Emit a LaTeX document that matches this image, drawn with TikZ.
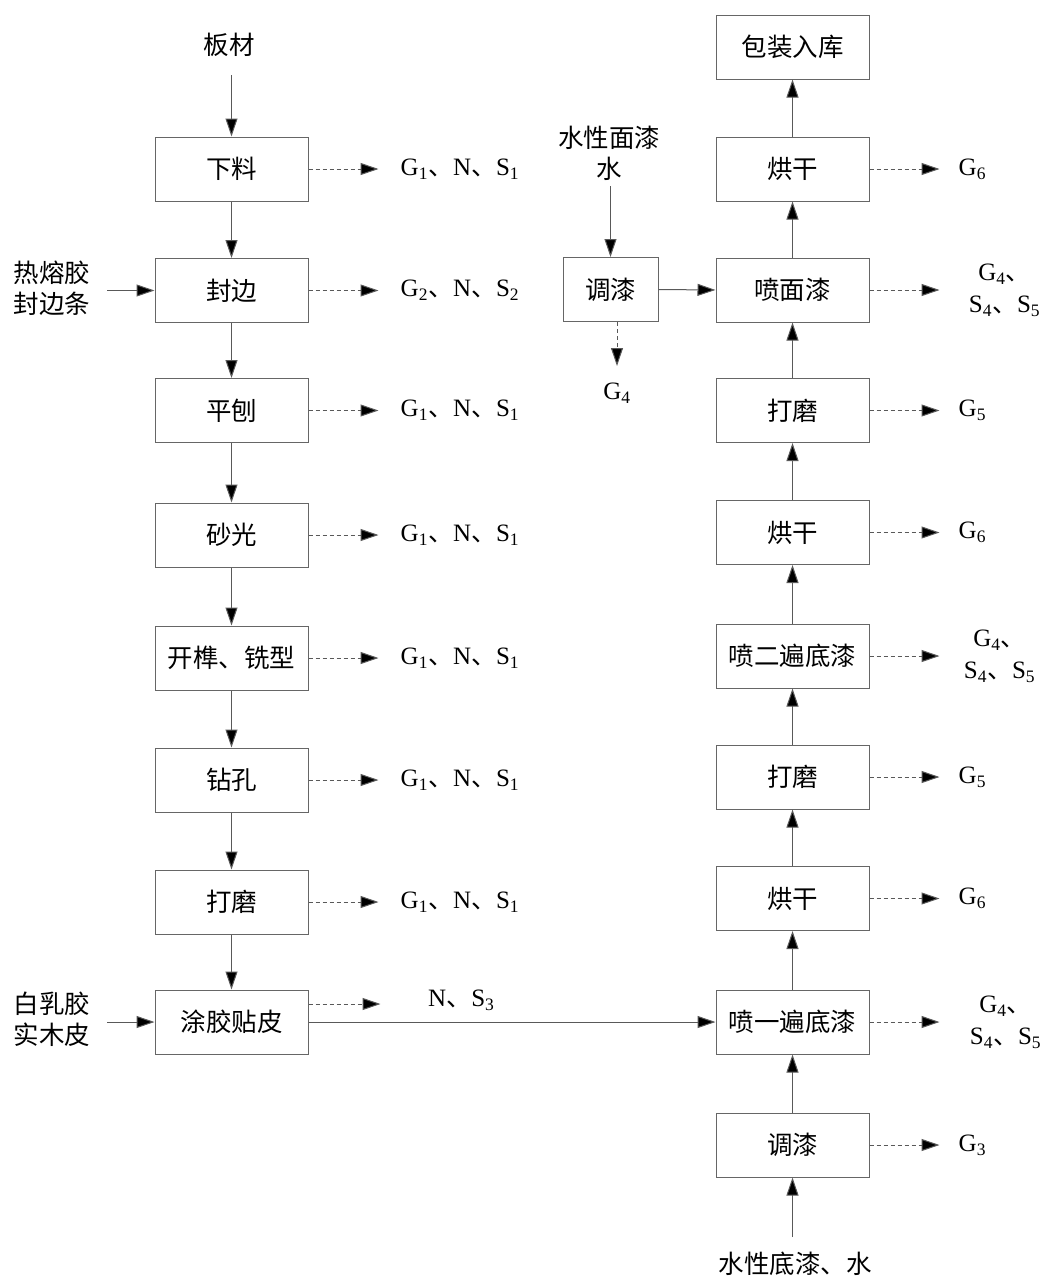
\documentclass[tikz,border=0pt]{standalone}
\usepackage{fontspec}
\setmainfont{Liberation Serif}
\newfontfamily\cjk{Noto Sans CJK SC}
\usetikzlibrary{arrows.meta}
\newcommand{\dn}{{\cjk 、}}
\tikzset{
  x=1pt,y=-1pt,
  every node/.style={font=\fontsize{25}{31}\selectfont},
  proc/.style={draw=black!60,line width=1pt,minimum width=153pt,minimum height=64pt,inner sep=0pt,font=\cjk\fontsize{25.5}{30}\selectfont},
  procs/.style={proc,minimum width=95pt},
  lbl/.style={inner sep=0pt,anchor=west},
  zh/.style={font=\cjk\fontsize{25.5}{31}\selectfont,align=center,inner sep=0pt},
  flow/.style={draw=black!65,line width=1pt,-{Triangle[length=18pt,width=12pt,fill=black]}},
  emit/.style={flow,dash pattern=on 4pt off 3pt}
}
\begin{document}
\begin{tikzpicture}
\useasboundingbox (0,0) rectangle (1043,1277);
% left column
\node[proc] (xl) at (231.5,169) {下料};
\node[proc] (fb) at (231.5,290.5) {封边};
\node[proc] (pb) at (231.5,410.5) {平刨};
\node[proc] (sg) at (231.5,535) {砂光};
\node[proc] (ks) at (231.5,658) {开榫、铣型};
\node[proc] (zk) at (231.5,780) {钻孔};
\node[proc] (dm1) at (231.5,902) {打磨};
\node[proc] (tj) at (231.5,1022) {涂胶贴皮};
% right column
\node[proc] (bz) at (792.5,47) {包装入库};
\node[proc] (hg3) at (792.5,169) {烘干};
\node[proc] (pm) at (792.5,290) {喷面漆};
\node[proc] (dm3) at (792.5,410.5) {打磨};
\node[proc] (hg2) at (792.5,532.5) {烘干};
\node[proc] (pe) at (792.5,656) {喷二遍底漆};
\node[proc] (dm2) at (792.5,777) {打磨};
\node[proc] (hg1) at (792.5,898.5) {烘干};
\node[proc] (py) at (792.5,1022) {喷一遍底漆};
\node[proc] (tq2) at (792.5,1145) {调漆};
% middle
\node[procs] (tq1) at (610.5,289.5) {调漆};
% inputs
\node[zh] (bc) at (229,45) {板材};
\coordinate (bcE) at (231.5,75);
\node[zh] (rrj) at (52,288) {热熔胶\\封边条};
\coordinate (rrjE) at (107,290.5);
\node[zh] (brj) at (52,1019) {白乳胶\\实木皮};
\coordinate (brjE) at (107,1022);
\node[zh] (sxm) at (609,153) {水性面漆\\水};
\coordinate (sxmE) at (610.5,186);
\node[zh] (sxd) at (795,1264) {水性底漆、水};
\coordinate (sxdE) at (792.5,1237);
% main flow
\draw[flow] (bcE) -- (xl);
\draw[flow] (xl) -- (fb);
\draw[flow] (fb) -- (pb);
\draw[flow] (pb) -- (sg);
\draw[flow] (sg) -- (ks);
\draw[flow] (ks) -- (zk);
\draw[flow] (zk) -- (dm1);
\draw[flow] (dm1) -- (tj);
\draw[flow] (rrjE) -- (fb.west);
\draw[flow] (brjE) -- (tj.west);
\draw[flow] (tj.east) -- (py.west);
\draw[flow] (sxdE) -- (tq2.south);
\draw[flow] (tq2) -- (py);
\draw[flow] (py) -- (hg1);
\draw[flow] (hg1) -- (dm2);
\draw[flow] (dm2) -- (pe);
\draw[flow] (pe) -- (hg2);
\draw[flow] (hg2) -- (dm3);
\draw[flow] (dm3) -- (pm);
\draw[flow] (pm) -- (hg3);
\draw[flow] (hg3) -- (bz);
\draw[flow] (sxmE) -- (tq1.north);
\draw[flow] (tq1.east) -- (pm.west);
% emissions left
\foreach \n/\t in {xl/{G\textsubscript{1}\dn N\dn S\textsubscript{1}},
                   fb/{G\textsubscript{2}\dn N\dn S\textsubscript{2}},
                   pb/{G\textsubscript{1}\dn N\dn S\textsubscript{1}},
                   sg/{G\textsubscript{1}\dn N\dn S\textsubscript{1}},
                   ks/{G\textsubscript{1}\dn N\dn S\textsubscript{1}},
                   zk/{G\textsubscript{1}\dn N\dn S\textsubscript{1}},
                   dm1/{G\textsubscript{1}\dn N\dn S\textsubscript{1}}}{
  \coordinate (\n E) at ([xshift=70pt]\n.east);
  \node[lbl] (\n L) at ([xshift=22pt]\n E) {\t};
  \draw[emit] (\n.east) -- (\n E);
}
\coordinate (tjA) at ([yshift=18pt]tj.east);
\coordinate (tjE) at ([xshift=72pt]tjA);
\node[lbl] (tjL) at (428,1000) {N\dn S\textsubscript{3}};
\draw[emit] (tjA) -- (tjE);
% emissions right single
\foreach \n/\t in {hg3/{G\textsubscript{6}},dm3/{G\textsubscript{5}},hg2/{G\textsubscript{6}},
                   dm2/{G\textsubscript{5}},hg1/{G\textsubscript{6}},tq2/{G\textsubscript{3}}}{
  \coordinate (\n E) at ([xshift=70pt]\n.east);
  \node[lbl] (\n L) at ([xshift=19pt]\n E) {\t};
  \draw[emit] (\n.east) -- (\n E);
}
% emissions right double
\foreach \n/\dx in {pm/65,pe/60,py/66}{
  \coordinate (\n E) at ([xshift=70pt]\n.east);
  \node[align=center,inner sep=0pt,font=\fontsize{25}{32}\selectfont] (\n L) at ([xshift=\dx pt]\n E) {G\textsubscript{4}\dn\\S\textsubscript{4}\dn S\textsubscript{5}};
  \draw[emit] (\n.east) -- (\n E);
}
% middle emission
\coordinate (tq1E) at (617,366);
\draw[emit] (tq1.south -| tq1E) -- (tq1E);
\node[inner sep=0pt] (tq1L) at (617,393) {G\textsubscript{4}};
\end{tikzpicture}
\end{document}
